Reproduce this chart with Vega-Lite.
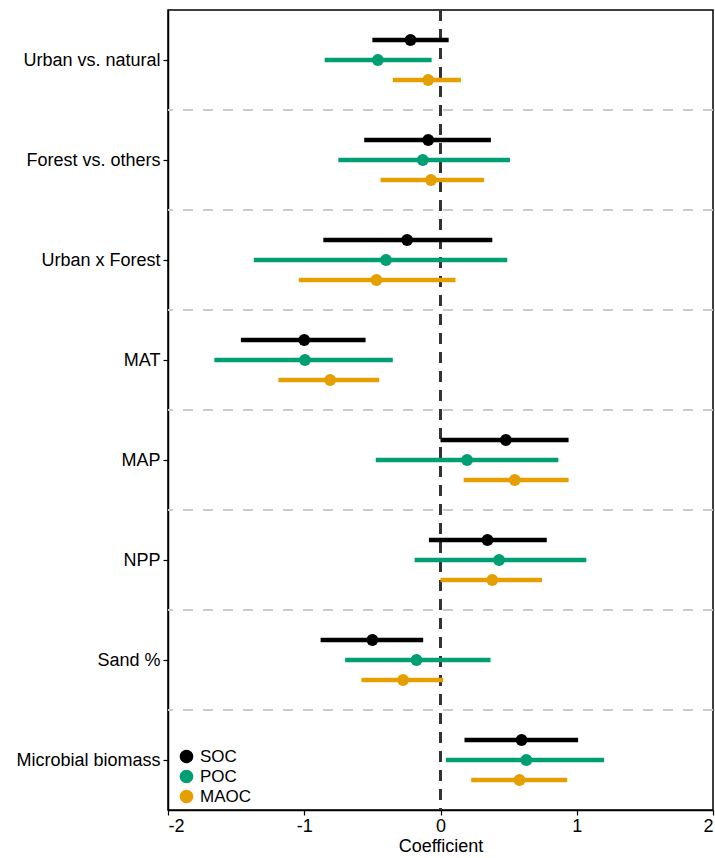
{
  "$schema": "https://vega.github.io/schema/vega-lite/v6.json",
  "width": 545,
  "height": 800,
  "autosize": "none",
  "padding": {"left": 168, "top": 10, "right": 2, "bottom": 48},
  "background": "white",
  "config": {
    "font": "Liberation Sans",
    "view": {"stroke": "black", "strokeWidth": 1.5}
  },
  "data": {
    "values": [
      {"predictor": "Urban vs. natural", "model": "SOC", "est": -0.22, "lo": -0.50, "hi": 0.06},
      {"predictor": "Urban vs. natural", "model": "POC", "est": -0.46, "lo": -0.85, "hi": -0.065},
      {"predictor": "Urban vs. natural", "model": "MAOC", "est": -0.09, "lo": -0.35, "hi": 0.15},
      {"predictor": "Forest vs. others", "model": "SOC", "est": -0.09, "lo": -0.56, "hi": 0.37},
      {"predictor": "Forest vs. others", "model": "POC", "est": -0.13, "lo": -0.75, "hi": 0.51},
      {"predictor": "Forest vs. others", "model": "MAOC", "est": -0.07, "lo": -0.44, "hi": 0.32},
      {"predictor": "Urban x Forest", "model": "SOC", "est": -0.245, "lo": -0.86, "hi": 0.38},
      {"predictor": "Urban x Forest", "model": "POC", "est": -0.40, "lo": -1.37, "hi": 0.49},
      {"predictor": "Urban x Forest", "model": "MAOC", "est": -0.47, "lo": -1.04, "hi": 0.11},
      {"predictor": "MAT", "model": "SOC", "est": -1.00, "lo": -1.465, "hi": -0.55},
      {"predictor": "MAT", "model": "POC", "est": -0.995, "lo": -1.66, "hi": -0.35},
      {"predictor": "MAT", "model": "MAOC", "est": -0.81, "lo": -1.19, "hi": -0.45},
      {"predictor": "MAP", "model": "SOC", "est": 0.48, "lo": 0.0, "hi": 0.94},
      {"predictor": "MAP", "model": "POC", "est": 0.195, "lo": -0.475, "hi": 0.865},
      {"predictor": "MAP", "model": "MAOC", "est": 0.545, "lo": 0.17, "hi": 0.94},
      {"predictor": "NPP", "model": "SOC", "est": 0.345, "lo": -0.085, "hi": 0.78},
      {"predictor": "NPP", "model": "POC", "est": 0.43, "lo": -0.19, "hi": 1.07},
      {"predictor": "NPP", "model": "MAOC", "est": 0.38, "lo": 0.0, "hi": 0.745},
      {"predictor": "Sand %", "model": "SOC", "est": -0.50, "lo": -0.88, "hi": -0.127},
      {"predictor": "Sand %", "model": "POC", "est": -0.176, "lo": -0.70, "hi": 0.367},
      {"predictor": "Sand %", "model": "MAOC", "est": -0.275, "lo": -0.58, "hi": 0.02},
      {"predictor": "Microbial biomass", "model": "SOC", "est": 0.595, "lo": 0.176, "hi": 1.01},
      {"predictor": "Microbial biomass", "model": "POC", "est": 0.63, "lo": 0.04, "hi": 1.20},
      {"predictor": "Microbial biomass", "model": "MAOC", "est": 0.58, "lo": 0.225, "hi": 0.93}
    ]
  },
  "layer": [
    {
      "transform": [{"filter": "datum.model == 'SOC' && datum.predictor != 'Urban vs. natural'"}],
      "mark": {"type": "rule", "color": "#cccccc", "strokeWidth": 2, "strokeDash": [10, 10]},
      "encoding": {
        "y": {"field": "predictor", "type": "nominal", "bandPosition": 0,
              "sort": ["Urban vs. natural", "Forest vs. others", "Urban x Forest", "MAT", "MAP", "NPP", "Sand %", "Microbial biomass"],
              "scale": {"paddingInner": 0, "paddingOuter": 0},
              "axis": {"title": null, "labelFontSize": 18, "labelColor": "black", "tickColor": "black", "tickSize": 5, "tickWidth": 1.2, "domainColor": "black", "domainWidth": 1.5, "labelPadding": 3, "grid": false, "bandPosition": 0.5, "labelOffset": 1}}
      }
    },
    {
      "mark": {"type": "rule", "color": "#333333", "strokeWidth": 2.3, "strokeDash": [11, 8]},
      "encoding": {"x": {"datum": 0, "type": "quantitative",
                         "scale": {"domain": [-2, 2], "nice": false, "zero": false},
                         "axis": {"title": "Coefficient", "values": [-2, -1, 0, 1, 2], "labelExpr": "'' + datum.value", "grid": false, "labelFontSize": 18, "labelColor": "black", "titleFontSize": 18, "titleFontWeight": "normal", "titleColor": "black", "tickColor": "black", "tickSize": 5, "tickWidth": 1.2, "domainColor": "black", "domainWidth": 1.5, "labelPadding": 2, "titlePadding": 2}}}
    },
    {
      "mark": {"type": "rule", "strokeWidth": 4.5},
      "encoding": {
        "y": {"field": "predictor", "type": "nominal",
              "sort": ["Urban vs. natural", "Forest vs. others", "Urban x Forest", "MAT", "MAP", "NPP", "Sand %", "Microbial biomass"]},
        "yOffset": {"field": "model", "type": "nominal", "sort": ["SOC", "POC", "MAOC"],
                    "scale": {"domain": ["SOC", "POC", "MAOC"], "paddingInner": 0, "paddingOuter": 1}},
        "x": {"field": "lo", "type": "quantitative"},
        "x2": {"field": "hi"},
        "color": {"field": "model", "type": "nominal",
                  "scale": {"domain": ["SOC", "POC", "MAOC"], "range": ["#000000", "#009E73", "#E69F00"]},
                  "legend": {"title": null, "orient": "none", "legendX": 10, "legendY": 738, "symbolType": "circle", "symbolSize": 150, "labelFontSize": 17, "labelColor": "black", "rowPadding": 1, "labelOffset": 5}}
      }
    },
    {
      "mark": {"type": "point", "filled": true, "size": 140, "opacity": 1},
      "encoding": {
        "y": {"field": "predictor", "type": "nominal",
              "sort": ["Urban vs. natural", "Forest vs. others", "Urban x Forest", "MAT", "MAP", "NPP", "Sand %", "Microbial biomass"]},
        "yOffset": {"field": "model", "type": "nominal", "sort": ["SOC", "POC", "MAOC"]},
        "x": {"field": "est", "type": "quantitative"},
        "color": {"field": "model", "type": "nominal"}
      }
    }
  ]
}
